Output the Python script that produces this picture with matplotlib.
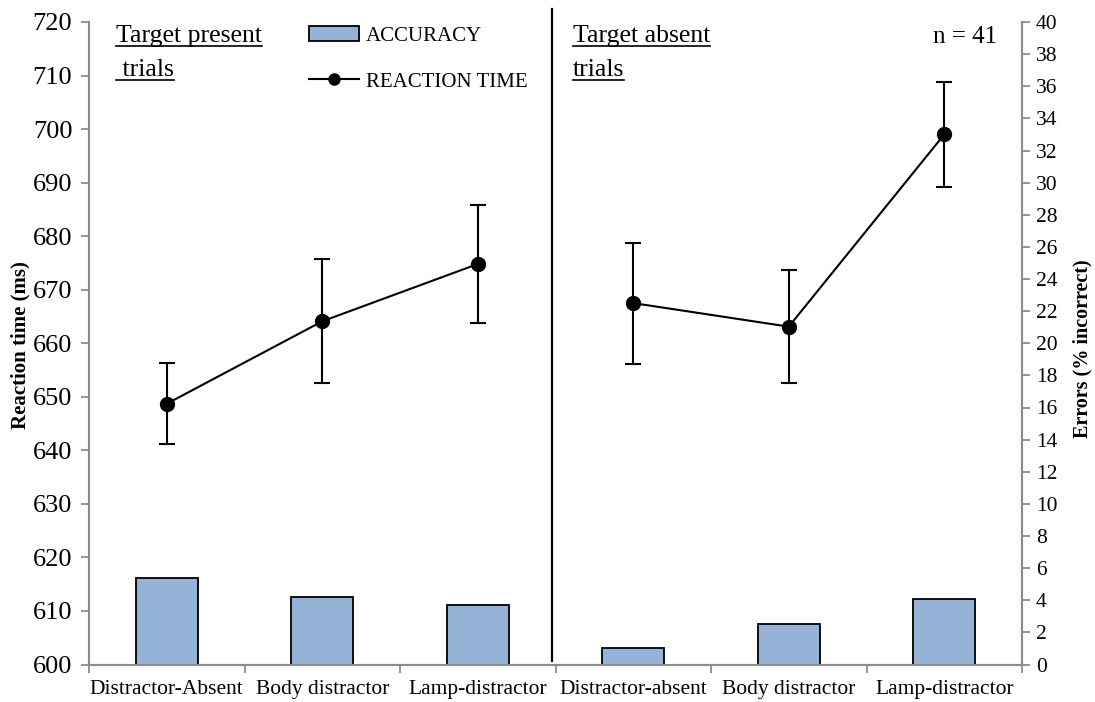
import numpy as np
import matplotlib.pyplot as plt
from matplotlib.patches import Patch
from matplotlib.lines import Line2D

plt.rcParams['font.family'] = ['Liberation Serif', 'DejaVu Serif']

categorias = ['Distractor-Absent', 'Body distractor', 'Lamp-distractor',
              'Distractor-absent', 'Body distractor', 'Lamp-distractor']
errores = [5.4, 4.2, 3.7, 1.0, 2.5, 4.1]           # % incorrecto
rt = [648.7, 664.1, 674.8, 667.5, 663.1, 699.0]     # ms
rt_err = [7.6, 11.6, 11.1, 11.3, 10.6, 9.8]

azul = '#95B3D7'
gris = '#8C8C8C'
W, H = 1095, 702

fig = plt.figure(figsize=(10.95, 7.02), dpi=100)
ax = fig.add_axes([89/W, 37.5/H, (1022-89)/W, (664.5-22)/H])
ax2 = ax.twinx()

x = np.arange(len(categorias))

# barras de errores en el eje derecho
ax2.bar(x, errores, width=0.4, color=azul, edgecolor='black', linewidth=1.3, zorder=2)
ax2.set_ylim(0, 40)
ax2.set_yticks(np.arange(0, 41, 2))

# tiempo de reaccion en el eje izquierdo, dos tramos
ax.set_zorder(ax2.get_zorder() + 1)
ax.patch.set_visible(False)
for sl in (slice(0, 3), slice(3, 6)):
    ax.errorbar(x[sl], rt[sl], yerr=rt_err[sl], color='black', lw=1.5,
                marker='o', ms=10, capsize=6, capthick=1.5, elinewidth=1.5)
ax.set_ylim(600, 720)
ax.set_yticks(np.arange(600, 721, 10))
ax.set_xlim(-0.5, 5.5)
ax.set_xticks(np.arange(-0.5, 6, 1))
ax.set_xticklabels([])
ax.set_xticks(x, minor=True)
ax.set_xticklabels(categorias, minor=True, fontsize=15.5)
ax.tick_params(axis='x', which='minor', length=0, pad=11)
ax.tick_params(axis='x', which='major', length=6, color=gris, width=1.3)
ax.tick_params(axis='y', labelsize=19, length=6, color=gris, width=1.3, pad=6)
ax2.tick_params(axis='y', labelsize=15.5, length=6, color=gris, width=1.3, pad=4)

for a in (ax, ax2):
    a.spines['top'].set_visible(False)
    for s in ('left', 'right', 'bottom'):
        a.spines[s].set_color(gris)
        a.spines[s].set_linewidth(1.5)

# separador entre condiciones
ax.plot([2.48, 2.48], [0.005, 1.02], transform=ax.get_xaxis_transform(),
        color='black', lw=1.6, clip_on=False)

fig.text(20/W, 1 - 345/H, 'Reaction time (ms)', rotation=90,
         fontsize=15, fontweight='bold', ha='center', va='center')
fig.text(1082/W, 1 - 349/H, 'Errors (% incorrect)', rotation=90,
         fontsize=14.5, fontweight='bold', ha='center', va='center')

fig.text(933/W, 1 - 37/H, 'n = 41', fontsize=18, va='center')

# titulos subrayados
titulos = [(116, 36, 'Target present'), (116, 70, ' trials'),
           (573, 36, 'Target absent'), (573, 70, 'trials')]
textos = []
for px, py, s in titulos:
    textos.append(fig.text(px/W, 1 - py/H, s, fontsize=18.5, va='center'))

fig.canvas.draw()
r = fig.canvas.get_renderer()
for t in textos:
    bb = t.get_window_extent(r)
    yl = bb.y0 + 1
    fig.add_artist(Line2D([bb.x0/W, bb.x1/W], [yl/H, yl/H],
                          color='black', lw=1.2))

handles = [Patch(facecolor=azul, edgecolor='black', linewidth=1.3),
           Line2D([], [], color='black', lw=1.5, marker='o', ms=8)]
fig.legend(handles, ['ACCURACY', 'REACTION TIME'], loc='upper left',
           bbox_to_anchor=(299/W, 1 - 16/H), frameon=False, fontsize=15,
           handlelength=2.4, handleheight=0.7, handletextpad=0.3,
           labelspacing=1.25, borderpad=0)

fig.savefig('out.png', dpi=100)
